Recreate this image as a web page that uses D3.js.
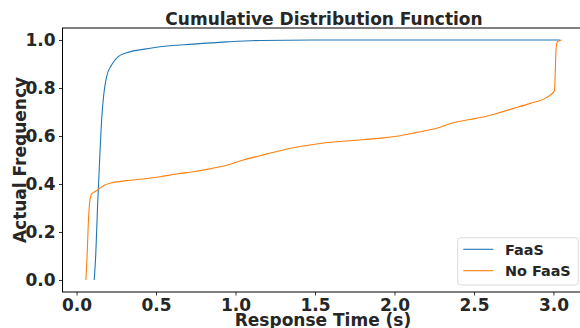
<!DOCTYPE html>
<html>
<head>
<meta charset="utf-8">
<script src="https://cdn.jsdelivr.net/npm/d3@7"></script>
<style>
  html, body { margin: 0; padding: 0; background: #fff; }
  svg { display: block; }
  text { font-family: "DejaVu Sans", sans-serif; font-weight: bold; fill: #262626; }
</style>
</head>
<body>
<svg id="chart" width="580" height="328"></svg>
<script>
// ---- data ----
const seriesNames = ["FaaS", "No FaaS"];
const seriesColors = ["#1f77b4", "#ff7f0e"];

const faasX = [0.111, 0.121, 0.132, 0.147, 0.159, 0.172, 0.189, 0.22, 0.262, 0.315, 0.419, 0.524, 0.734, 0.944, 1.154, 1.5, 2.0, 2.5, 3.04];
const faasY = [0.0, 0.111, 0.306, 0.528, 0.68, 0.778, 0.847, 0.896, 0.931, 0.947, 0.961, 0.972, 0.983, 0.992, 0.998, 1.0, 1.0, 1.0, 1.0];

const noFaasX = [0.0585, 0.067, 0.073, 0.084, 0.094, 0.115, 0.147, 0.178, 0.22, 0.315, 0.419, 0.524, 0.629, 0.734, 0.839, 0.944, 1.048, 1.154, 1.3, 1.405, 1.51, 1.615, 1.72, 1.825, 1.93, 2.035, 2.14, 2.266, 2.37, 2.475, 2.549, 2.643, 2.748, 2.853, 2.958, 3.006, 3.012, 3.016, 3.025, 3.052];
const noFaasY = [0.0, 0.111, 0.222, 0.333, 0.358, 0.368, 0.382, 0.396, 0.405, 0.414, 0.421, 0.43, 0.442, 0.451, 0.463, 0.478, 0.5, 0.518, 0.542, 0.556, 0.567, 0.575, 0.58, 0.586, 0.592, 0.601, 0.615, 0.632, 0.655, 0.669, 0.678, 0.694, 0.715, 0.736, 0.761, 0.788, 0.875, 0.958, 0.993, 1.0];

const xTicks = [0.0, 0.5, 1.0, 1.5, 2.0, 2.5, 3.0];
const yTicks = [0.0, 0.2, 0.4, 0.6, 0.8, 1.0];

const titleText = "Cumulative Distribution Function";
const xLabelText = "Response Time (s)";
const yLabelText = "Actual Frequency";

// ---- layout ----
const svg = d3.select("#chart");
const mLeft = 62.5, mRight = 590, mTop = 28, mBottom = 292;

const x = d3.scaleLinear().domain([-0.0885, 3.23]).range([mLeft, mRight]);
const y = d3.scaleLinear().domain([-0.05, 1.05]).range([mBottom, mTop]);

const series = [
  faasX.map((v, i) => [v, faasY[i]]),
  noFaasX.map((v, i) => [v, noFaasY[i]])
];

const line = d3.line().x(d => x(d[0])).y(d => y(d[1])).curve(d3.curveMonotoneX);

series.forEach((pts, i) => {
  svg.append("path")
    .attr("d", line(pts))
    .attr("fill", "none")
    .attr("stroke", seriesColors[i])
    .attr("stroke-width", 1.1);
});

// spines
svg.append("rect")
  .attr("x", mLeft).attr("y", mTop)
  .attr("width", mRight - mLeft).attr("height", mBottom - mTop)
  .attr("fill", "none").attr("stroke", "#000").attr("stroke-width", 1);

// axes
const xAxis = d3.axisBottom(x).tickValues(xTicks).tickFormat(d3.format(".1f"))
  .tickSize(3.5).tickPadding(3);
const gx = svg.append("g").attr("transform", `translate(0,${mBottom})`).call(xAxis);
gx.select(".domain").remove();
gx.selectAll("line").attr("stroke", "#000").attr("stroke-width", 0.8);
gx.selectAll("text").style("font-size", "17px").attr("fill", "#262626")
  .style("font-family", "DejaVu Sans").style("font-weight", "bold");

const yAxis = d3.axisLeft(y).tickValues(yTicks).tickFormat(d3.format(".1f"))
  .tickSize(3.5).tickPadding(3.5);
const gy = svg.append("g").attr("transform", `translate(${mLeft},0)`).call(yAxis);
gy.select(".domain").remove();
gy.selectAll("line").attr("stroke", "#000").attr("stroke-width", 0.8);
gy.selectAll("text").style("font-size", "17px").attr("fill", "#262626")
  .style("font-family", "DejaVu Sans").style("font-weight", "bold");

// title & labels
svg.append("text").attr("x", 324).attr("y", 25)
  .attr("text-anchor", "middle").style("font-size", "17px").text(titleText);
svg.append("text").attr("x", 323).attr("y", 326)
  .attr("text-anchor", "middle").style("font-size", "17px").text(xLabelText);
svg.append("text")
  .attr("transform", `translate(26,${(mTop + mBottom) / 2}) rotate(-90)`)
  .attr("text-anchor", "middle").style("font-size", "17px").text(yLabelText);

// legend
const lg = svg.append("g");
lg.append("rect")
  .attr("x", 457.7).attr("y", 237.7).attr("width", 120.6).attr("height", 47.3)
  .attr("rx", 3).attr("fill", "#fff").attr("fill-opacity", 0.8)
  .attr("stroke", "#d0d0d0").attr("stroke-width", 0.8);
seriesNames.forEach((name, i) => {
  const yy = 249.3 + i * 21.4;
  lg.append("line").attr("x1", 463.3).attr("x2", 493.3).attr("y1", yy).attr("y2", yy)
    .attr("stroke", seriesColors[i]).attr("stroke-width", 1.1);
  lg.append("text").attr("x", 505).attr("y", yy + 5.2)
    .style("font-size", "14.4px").text(name);
});
</script>
</body>
</html>
